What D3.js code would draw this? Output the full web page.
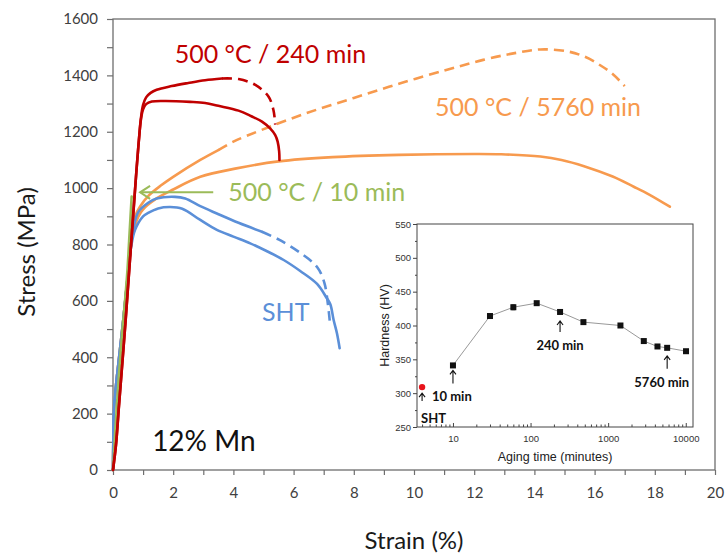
<!DOCTYPE html>
<html>
<head>
<meta charset="utf-8">
<script src="https://d3js.org/d3.v7.min.js"></script>
<style>
    body { margin: 0; background: #fff; }
    svg text { font-family: Lato, "Open Sans", sans-serif; }
    .curve { fill: none; stroke-width: 2.6; stroke-linecap: round; stroke-linejoin: round; }
    .dash { stroke-dasharray: 10, 6; stroke-linecap: butt; }
    .inset text { font-family: "Liberation Sans", Arial, sans-serif; }
    .note { font-size: 25px; }
</style>
</head>
<body>
<svg width="726" height="556"></svg>
<script>
// ---- tensile curves, [strain %, stress MPa] ----
var elasticRed = [[0,0],[0.1,90],[0.2,230],[0.42,532],[0.6,800],[0.78,1064],[0.86,1170]];
var toe = [[0,0],[0.01,100],[0.03,213],[0.1,300],[0.18,378],[0.34,532],[0.51,709]];

var red240Top = [[0.93,1250],[1.0,1295],[1.1,1322],[1.25,1338],[1.45,1349],[1.95,1362],[2.5,1373],[3.06,1383],[3.62,1389]];
var red240TopDash = [[3.62,1389],[4.17,1387],[4.73,1366],[5.17,1324],[5.33,1277],[5.39,1225]];
var red240Low = [[0.93,1245],[1.0,1280],[1.1,1298],[1.29,1307],[1.73,1309],[2.56,1306],[3.06,1302],[3.5,1292],
                 [4.17,1275],[4.6,1255],[4.95,1236],[5.22,1212],[5.39,1188],[5.47,1165],[5.52,1130],[5.53,1100]];

var orange5760Top = [[0.62,816],[0.73,899],[0.9,935],[1.2,975],[1.6,1010],[2.0,1040],[2.9,1100],[3.5,1135]];
var orange5760TopDash = [[3.5,1135],[4.0,1165],[4.9,1205],[6.4,1265],[8.0,1320],[9.55,1372],[11.1,1420],[12.3,1455],
                         [13.3,1478],[14.2,1492],[15.1,1485],[15.7,1465],[16.2,1435],[16.6,1405],[17.0,1362]];
var orange5760Low = [[0.62,816],[0.73,865],[0.84,899],[1.0,925],[1.4,960],[2.0,995],[2.9,1040],[4.1,1070],[5.5,1095],
                     [7.3,1110],[9.5,1118],[12.0,1121],[12.9,1120],[14.2,1112],[14.9,1100],[15.65,1078],[16.6,1041],
                     [17.3,1005],[17.8,978],[18.5,934]];

var green10 = [[0,0],[0.1,180],[0.2,340],[0.3,480],[0.4,600],[0.48,709],[0.55,840],[0.62,970]];

var shtTop = [[0.6,800],[0.7,868],[0.84,915],[1.17,948],[1.45,963],[2.06,969],[2.4,963],[2.9,936],[3.45,910],
              [4.17,877],[4.95,845]];
var shtTopDash = [[4.95,845],[5.5,818],[6.2,772],[6.78,720],[7.02,665],[7.14,588],[7.2,530]];
var shtLow = [[0.6,790],[0.73,851],[1.0,900],[1.17,912],[1.5,928],[1.9,933],[2.3,927],[2.9,887],[3.45,852],
              [4.0,828],[4.56,804],[5.1,777],[5.67,745],[6.22,706],[6.78,660],[7.1,610],[7.22,588],[7.33,532],
              [7.44,485],[7.53,432]];

var strainTicks = d3.range(0, 21, 1);
var stressTicks = d3.range(0, 1601, 100);

// ---- inset: hardness vs aging time ----
var agingTime = [10, 30, 60, 120, 240, 480, 1440, 2880, 4320, 5760, 10080];
var hardness  = [341, 414, 427, 433, 420, 405, 400, 377, 369, 367, 362];
var hardnessErr = [0, 2, 4, 2, 2, 0, 2, 0, 0, 0, 0];
var shtPoint = [4, 309];
var timeTicks = [10, 100, 1000, 10000];
var hvTicks = d3.range(250, 551, 50);

var svg = d3.select("svg");

var x = d3.scaleLinear().domain([0, 20]).range([113, 715]);
var y = d3.scaleLinear().domain([0, 1600]).range([470, 19]);

var RED = "#C00000", ORANGE = "#F79A4E", GREEN = "#9BBB59", BLUE = "#5B8FD8";

// frame
svg.append("rect")
    .attr("x", x(0)).attr("y", y(1600))
    .attr("width", x(20) - x(0)).attr("height", y(0) - y(1600))
    .attr("fill", "none").attr("stroke", "#6e6e6e").attr("stroke-width", 1.3);

// axes
var yAxis = svg.append("g")
    .attr("transform", "translate(" + x(0) + ",0)")
    .call(d3.axisLeft(y).tickValues(stressTicks).tickSize(6).tickPadding(9)
        .tickFormat(function(d) { return d % 200 === 0 ? d : ""; }));
var xAxis = svg.append("g")
    .attr("transform", "translate(0," + y(0) + ")")
    .call(d3.axisBottom(x).tickValues(strainTicks).tickSize(5).tickPadding(12)
        .tickFormat(function(d) { return d % 2 === 0 ? d : ""; }));
[xAxis, yAxis].forEach(function(a) {
    a.select(".domain").remove();
    a.selectAll("line").attr("stroke", "#6e6e6e").attr("stroke-width", 1.2);
    a.selectAll("text").attr("fill", "#404040").style("font-size", "15px")
        .style("font-family", "Lato, sans-serif");
});

// axis titles
svg.append("text")
    .attr("transform", "translate(35,252) rotate(-90)")
    .attr("text-anchor", "middle")
    .style("font-size", "24px").attr("fill", "#1a1a1a")
    .text("Stress (MPa)");
svg.append("text")
    .attr("x", x(10)).attr("y", 549)
    .attr("text-anchor", "middle")
    .style("font-size", "24px").attr("fill", "#1a1a1a")
    .text("Strain (%)");

// curves
var line = d3.line()
    .x(function(d) { return x(d[0]); })
    .y(function(d) { return y(d[1]); })
    .curve(d3.curveCatmullRom.alpha(0.5));

var curves = [
    {pts: toe.concat(orange5760Top), color: ORANGE},
    {pts: orange5760TopDash, color: ORANGE, dash: true},
    {pts: toe.concat(orange5760Low), color: ORANGE},
    {pts: toe.concat(shtTop), color: BLUE},
    {pts: shtTopDash, color: BLUE, dash: true},
    {pts: toe.concat(shtLow), color: BLUE},
    {pts: green10, color: GREEN},
    {pts: elasticRed.concat(red240Top), color: RED},
    {pts: red240TopDash, color: RED, dash: true},
    {pts: elasticRed.concat(red240Low), color: RED}
];
svg.append("g").selectAll("path")
    .data(curves)
    .enter().append("path")
    .attr("class", function(d) { return d.dash ? "curve dash" : "curve"; })
    .attr("stroke", function(d) { return d.color; })
    .attr("d", function(d) { return line(d.pts); });

// green arrow pointing at the 10 min curve
var ay = y(985);
svg.append("line")
    .attr("x1", x(3.33)).attr("y1", ay).attr("x2", x(0.9)).attr("y2", ay)
    .attr("stroke", GREEN).attr("stroke-width", 2);
svg.append("path")
    .attr("d", "M" + (x(0.9) + 10) + "," + (ay - 6.5) + "L" + x(0.9) + "," + ay + "L" + (x(0.9) + 10) + "," + (ay + 6.5))
    .attr("fill", "none").attr("stroke", GREEN).attr("stroke-width", 2);

// labels
svg.append("text").attr("class", "note").attr("x", x(2.05)).attr("y", y(1445)).attr("fill", RED).text("500 °C / 240 min");
svg.append("text").attr("class", "note").attr("x", x(10.7)).attr("y", y(1255)).attr("fill", ORANGE).text("500 °C / 5760 min");
svg.append("text").attr("class", "note").attr("x", x(3.83)).attr("y", y(955)).attr("fill", GREEN).text("500 °C / 10 min");
svg.append("text").attr("class", "note").attr("x", x(4.95)).attr("y", y(530)).attr("fill", BLUE).text("SHT");
svg.append("text").attr("x", x(1.3)).attr("y", y(69)).attr("fill", "#111")
    .style("font-size", "28px").text("12% Mn");

// ---- inset ----
var inset = svg.append("g").attr("class", "inset");
var ix = d3.scaleLog().domain([3.44, 12400]).range([417, 693]);
var iy = d3.scaleLinear().domain([250, 550]).range([427, 224]);

inset.append("rect")
    .attr("x", ix.range()[0]).attr("y", iy(550))
    .attr("width", ix.range()[1] - ix.range()[0]).attr("height", iy(250) - iy(550))
    .attr("fill", "#fff").attr("stroke", "#444").attr("stroke-width", 1);

var minorTime = [];
[1, 10, 100, 1000].forEach(function(dec) {
    for (var k = 2; k <= 9; k++) { if (dec * k > 3.44 && dec * k < 12400) minorTime.push(dec * k); }
});

var ixAxis = inset.append("g").attr("transform", "translate(0," + iy(250) + ")")
    .call(d3.axisBottom(ix).tickValues(timeTicks).tickSize(-4).tickPadding(8).tickFormat(d3.format("d")));
var ixMinor = inset.append("g").attr("transform", "translate(0," + iy(250) + ")")
    .call(d3.axisBottom(ix).tickValues(minorTime).tickSize(-2.5).tickFormat(""));
var iyAxis = inset.append("g").attr("transform", "translate(" + ix.range()[0] + ",0)")
    .call(d3.axisLeft(iy).tickValues(hvTicks).tickSize(4).tickPadding(2));
var iyMinor = inset.append("g").attr("transform", "translate(" + ix.range()[0] + ",0)")
    .call(d3.axisLeft(iy).tickValues(d3.range(275, 550, 50)).tickSize(2).tickFormat(""));
[ixAxis, ixMinor, iyAxis, iyMinor].forEach(function(a) {
    a.select(".domain").remove();
    a.selectAll("line").attr("stroke", "#444");
    a.selectAll("text").attr("fill", "#333").style("font-size", "9.5px")
        .style("font-family", "'Liberation Sans', Arial, sans-serif");
});

inset.append("text")
    .attr("transform", "translate(389," + iy(400) + ") rotate(-90)")
    .attr("text-anchor", "middle").style("font-size", "12.5px").attr("fill", "#222")
    .text("Hardness (HV)");
inset.append("text")
    .attr("x", ix(Math.sqrt(3.44 * 12400))).attr("y", 461)
    .attr("text-anchor", "middle").style("font-size", "12.5px").attr("fill", "#222")
    .text("Aging time (minutes)");

var hv = agingTime.map(function(t, i) { return [t, hardness[i], hardnessErr[i]]; });
inset.append("path")
    .datum(hv)
    .attr("fill", "none").attr("stroke", "#999").attr("stroke-width", 1)
    .attr("d", d3.line().x(function(d) { return ix(d[0]); }).y(function(d) { return iy(d[1]); }));
inset.selectAll(".err").data(hv.filter(function(d) { return d[2] > 0; }))
    .enter().append("path").attr("class", "err")
    .attr("stroke", "#777").attr("fill", "none").attr("stroke-width", 0.8)
    .attr("d", function(d) {
        var cx = ix(d[0]), t = iy(d[1] + d[2]), b = iy(d[1] - d[2]);
        return "M" + (cx - 2) + "," + t + "H" + (cx + 2) + "M" + cx + "," + t + "V" + b + "M" + (cx - 2) + "," + b + "H" + (cx + 2);
    });
inset.selectAll(".pt").data(hv)
    .enter().append("rect").attr("class", "pt")
    .attr("x", function(d) { return ix(d[0]) - 3; })
    .attr("y", function(d) { return iy(d[1]) - 3; })
    .attr("width", 6).attr("height", 6).attr("fill", "#111");
inset.append("circle")
    .attr("cx", ix(shtPoint[0])).attr("cy", iy(shtPoint[1])).attr("r", 3.2).attr("fill", "#e8141c");

// up arrows with labels
function upArrow(t, v, gap, len) {
    var cx = ix(t), top = iy(v) + gap;
    inset.append("path")
        .attr("d", "M" + cx + "," + (top + len) + "V" + top + "M" + (cx - 3) + "," + (top + 4) + "L" + cx + "," + top + "L" + (cx + 3) + "," + (top + 4))
        .attr("fill", "none").attr("stroke", "#111").attr("stroke-width", 1.1);
}
upArrow(shtPoint[0], shtPoint[1], 6, 8);
upArrow(10, 341, 5, 13);
upArrow(240, 420, 9, 11);
upArrow(5760, 367, 8, 13);

function note(txt, xp, yp, anchor) {
    inset.append("text").attr("x", xp).attr("y", yp).attr("text-anchor", anchor || "start")
        .style("font-family", "Lato, sans-serif").style("font-weight", "bold").style("font-size", "13px")
        .attr("fill", "#111").text(txt);
}
note("SHT", ix(shtPoint[0]) - 1, iy(250) - 4);
note("10 min", ix(10) - 21, iy(341) + 36);
note("240 min", ix(240), iy(420) + 38, "middle");
note("5760 min", ix(5760) + 22, iy(367) + 39, "end");
</script>
</body>
</html>
